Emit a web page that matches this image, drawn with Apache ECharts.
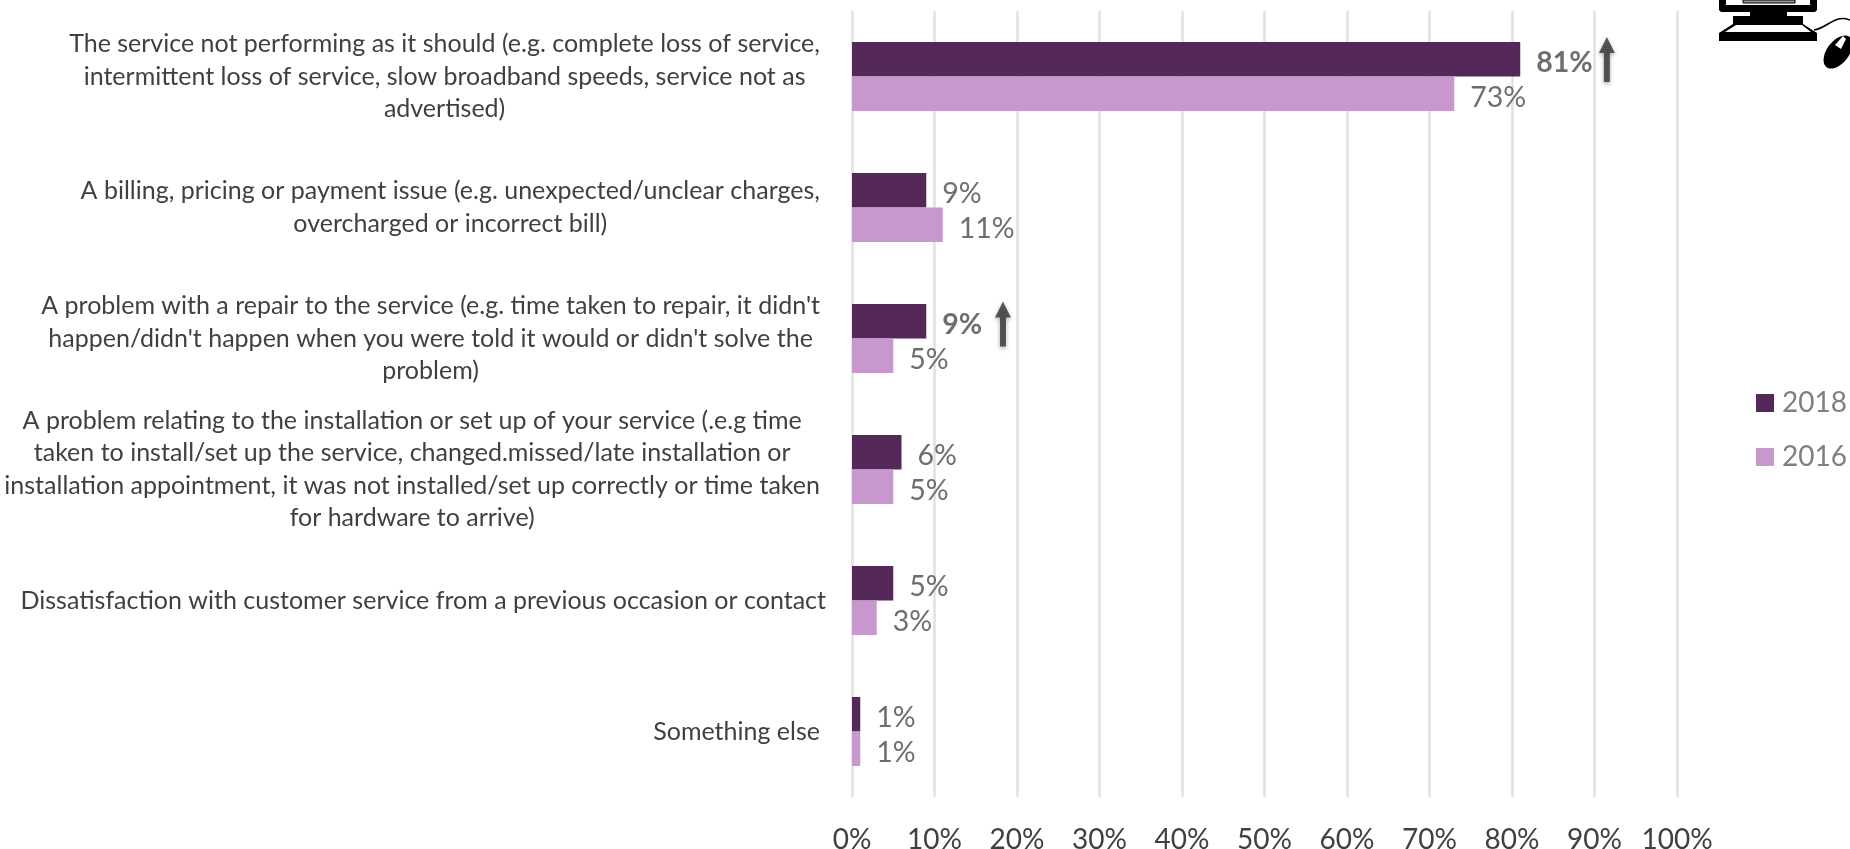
<!DOCTYPE html>
<html>
<head>
<meta charset="utf-8">
<style>html,body{margin:0;padding:0;background:#fff}#chart{width:1850px;height:849px}</style>
<script src="https://cdn.jsdelivr.net/npm/echarts@6/dist/echarts.min.js"></script>
</head>
<body>
<div id="chart"></div>
<script>
// Reasons for dissatisfaction, share of respondents by survey year
const categories = [
  "The service not performing as it should (e.g. complete loss of service,\nintermittent loss of service, slow broadband speeds, service not as\nadvertised)",
  "A billing, pricing or payment issue (e.g. unexpected/unclear charges,\novercharged or incorrect bill)",
  "A problem with a repair to the service (e.g. time taken to repair, it didn't\nhappen/didn't happen when you were told it would or didn't solve the\nproblem)",
  "A problem relating to the installation or set up of your service (.e.g time\ntaken to install/set up the service, changed.missed/late installation or\ninstallation appointment, it was not installed/set up correctly or time taken\nfor hardware to arrive)",
  "Dissatisfaction with customer service from a previous occasion or contact",
  "Something else"
];
const values2018 = [81, 9, 9, 6, 5, 1];
const values2016 = [73, 11, 5, 5, 3, 1];
// Rows whose 2018 figure is a significant rise: [arrow position in %, row index]
const riseArrows = [[91.5, 0], [18.3, 2]];
const boldRows2018 = [0, 2];

const FONT = 'Lato';
const DARK = '#55285a';
const LIGHT = '#c797cd';
const LABEL_FONT_SIZE = 25;

// Right-hand gap between a category's widest line and the axis
const labelGap = i => (i === 4 ? 26 : 32);
const arrowOffset = row => (row === 0 ? -17 : -14.5);

const measure = document.createElement('canvas').getContext('2d');
measure.font = LABEL_FONT_SIZE + 'px ' + FONT;
function widestLine(text) {
  return Math.max.apply(null, text.split('\n').map(l => measure.measureText(l).width));
}

const chart = echarts.init(document.getElementById('chart'), null, {renderer: 'canvas'});

const valueLabel = {
  show: true, position: 'right', distance: 16, offset: [0, 4],
  formatter: '{c}%', fontFamily: FONT, fontSize: 28.5, color: '#6e6e6e'
};

// Desktop computer and mouse pictogram, top right corner
const black = {fill: '#000000'};
const white = {fill: '#ffffff'};
const poly = (points, style) => ({type: 'polygon', silent: true, shape: {points}, style});
const pictogram = [
  poly([[1719,0],[1817,0],[1817,10],[1815,12],[1787,12],[1787,16],[1803,16],[1803,24],[1817,33],[1817,41],[1719,41],[1719,33],[1733,24],[1733,16],[1750,16],[1750,12],[1721,12],[1719,10]], black),
  poly([[1726,0],[1810,0],[1810,5],[1726,5]], white),
  poly([[1743,0],[1795,0],[1795,3],[1743,3]], {fill: '#9a9a9a', stroke: '#000', lineWidth: 1}),
  poly([[1736,25],[1802,25],[1811,32],[1725,32]], white),
  {type: 'bezierCurve', silent: true, shape: {x1: 1814, y1: 30, cpx1: 1828, cpy1: 28, cpx2: 1834, cpy2: 14, x2: 1850, y2: 20}, style: {stroke: '#000', lineWidth: 1.6, fill: null}},
  {type: 'ellipse', silent: true, x: 1838, y: 52, rotation: -0.65, shape: {cx: 0, cy: 0, rx: 11, ry: 19}, style: black},
  poly([[1835,45],[1843,36],[1846,39],[1841,49]], white)
];

chart.setOption({
  animation: false,
  backgroundColor: '#ffffff',
  textStyle: {fontFamily: FONT},
  legend: {
    data: ['2018', '2016'],
    orient: 'vertical',
    left: 1756, top: 389,
    padding: 0,
    icon: 'rect',
    itemWidth: 18, itemHeight: 18, itemGap: 26,
    textStyle: {fontFamily: FONT, fontSize: 28, color: '#7f7f7f', padding: [0, 0, 0, 3]}
  },
  grid: {left: 852, top: 11, width: 825, height: 786, outerBoundsMode: 'none'},
  xAxis: {
    type: 'value', min: 0, max: 100, interval: 10,
    axisLine: {show: false}, axisTick: {show: false},
    axisLabel: {formatter: '{value}%', fontFamily: FONT, fontSize: 28, color: '#404040', margin: 29},
    splitLine: {show: true, lineStyle: {color: '#e1e1e1', width: 2.5}}
  },
  yAxis: {
    type: 'category', inverse: true,
    data: categories.map((c, i) => ({
      value: c,
      textStyle: {align: 'center', padding: [4, widestLine(c) + 2 * labelGap(i), 0, 0]}
    })),
    axisLine: {show: false}, axisTick: {show: false},
    axisLabel: {
      margin: 0, align: 'center', interval: 0,
      fontFamily: FONT, fontSize: LABEL_FONT_SIZE, lineHeight: 32.5, color: '#404040'
    }
  },
  series: [
    {
      name: '2018', type: 'bar', barWidth: 34.5, barGap: 0,
      itemStyle: {color: DARK},
      label: valueLabel,
      data: values2018.map((v, i) => boldRows2018.includes(i)
        ? {value: v, label: {fontWeight: 'bold'}} : v)
    },
    {
      name: '2016', type: 'bar', barWidth: 34.5,
      itemStyle: {color: LIGHT},
      label: valueLabel,
      data: values2016
    },
    {
      name: 'rise', type: 'scatter', silent: true, z: 5,
      symbol: 'path://M8 0 L16 16 L11 16 L11 45 L5 45 L5 16 L0 16 Z',
      symbolSize: [16, 45],
      itemStyle: {color: '#333333', shadowColor: 'rgba(0,0,0,0.4)', shadowBlur: 4, shadowOffsetY: 2},
      data: riseArrows.map(a => ({value: [a[0], a[1]], symbolOffset: [0, arrowOffset(a[1])]}))
    }
  ],
  graphic: pictogram
});
</script>
</body>
</html>
